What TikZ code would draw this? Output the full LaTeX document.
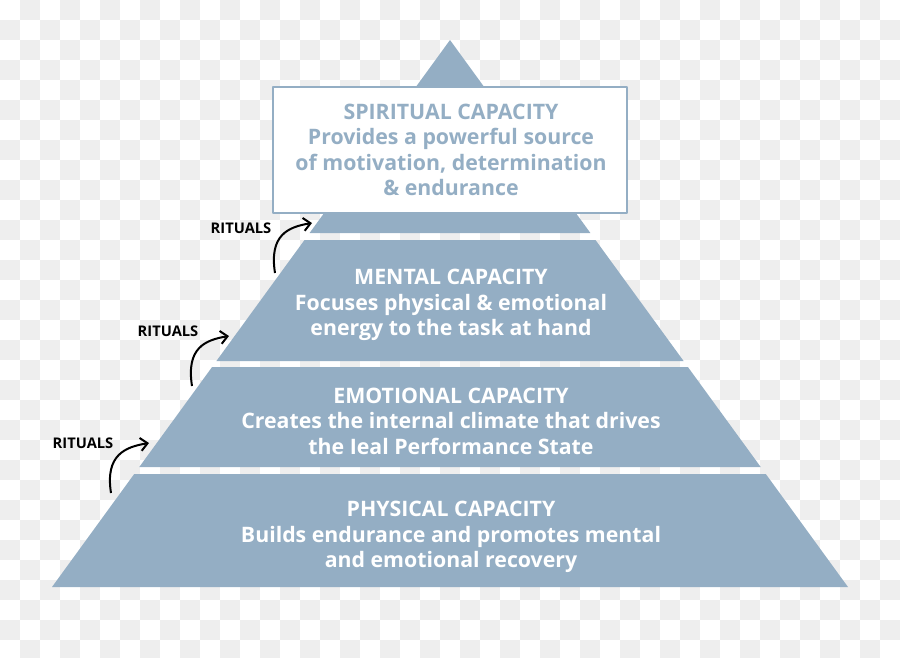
\documentclass[tikz,border=0pt]{standalone}
\usepackage{fontspec}
\setmainfont{Open Sans}
\usepackage{tikz}
\usetikzlibrary{arrows.meta}
\definecolor{capblue}{HTML}{94AEC4}
\definecolor{checkgray}{HTML}{EEEEEE}

\begin{document}
\begin{tikzpicture}[x=1pt,y=-1pt,line join=round,
    captext/.style={align=center,font=\fontsize{21.3}{25.5}\selectfont\bfseries},
    ritual/.style={font=\fontsize{14.7}{16}\selectfont\bfseries,text=black},
    ritarrow/.style={black,line width=2pt,-{Straight Barb[length=7pt,width=13pt]}}]
  \useasboundingbox (0,0) rectangle (900,657);
  % transparency checkerboard
  \foreach \x in {20,60,...,880}
    \foreach \y in {0,40,...,640}
      \fill[checkgray] (\x,\y) rectangle ++(20,20);
  \foreach \x in {0,40,...,880}
    \foreach \y in {20,60,...,640}
      \fill[checkgray] (\x,\y) rectangle ++(20,20);
  \fill[white] (273,87) rectangle (627,213);
  % pyramid bands
  \fill[capblue] (450,40) -- (590.4,233) -- (309.6,233) -- cycle;
  \fill[capblue] (304.5,240) -- (595.5,240) -- (683.6,361) -- (216.4,361) -- cycle;
  \fill[capblue] (212.1,367) -- (687.9,367) -- (760.7,467) -- (139.3,467) -- cycle;
  \fill[capblue] (134.2,474) -- (765.8,474) -- (848,587) -- (52,587) -- cycle;
  \filldraw[fill=white,draw=capblue,line width=2pt] (273,87) rectangle (627,213);

  \node[captext,text=capblue] (spiritual) at (451,150)
    {SPIRITUAL CAPACITY\\Provides a powerful source\\of motivation, determination\\\& endurance};
  \node[captext,text=white] (mental) at (451,305)
    {MENTAL CAPACITY\\Focuses physical \& emotional\\energy to the task at hand};
  \node[captext,text=white] (emotional) at (451,421)
    {EMOTIONAL CAPACITY\\Creates the internal climate that drives\\the Ieal Performance State};
  \node[captext,text=white] (physical) at (451,537)
    {PHYSICAL CAPACITY\\Builds endurance and promotes mental\\and emotional recovery};

  \node[ritual] (rit1) at (241,228) {RITUALS};
  \node[ritual] (rit2) at (168,331) {RITUALS};
  \node[ritual] (rit3) at (83,443) {RITUALS};
  \coordinate (rit1s) at (275,273);
  \coordinate (rit1e) at (312,223);
  \coordinate (rit2s) at (192,386);
  \coordinate (rit2e) at (229,336);
  \coordinate (rit3s) at (111,493);
  \coordinate (rit3e) at (149,443);
  \draw[ritarrow] (rit1s) .. controls +(-6,-38) and +(-24,4) .. (rit1e);
  \draw[ritarrow] (rit2s) .. controls +(-6,-38) and +(-24,4) .. (rit2e);
  \draw[ritarrow] (rit3s) .. controls +(-6,-38) and +(-24,4) .. (rit3e);
\end{tikzpicture}
\end{document}
